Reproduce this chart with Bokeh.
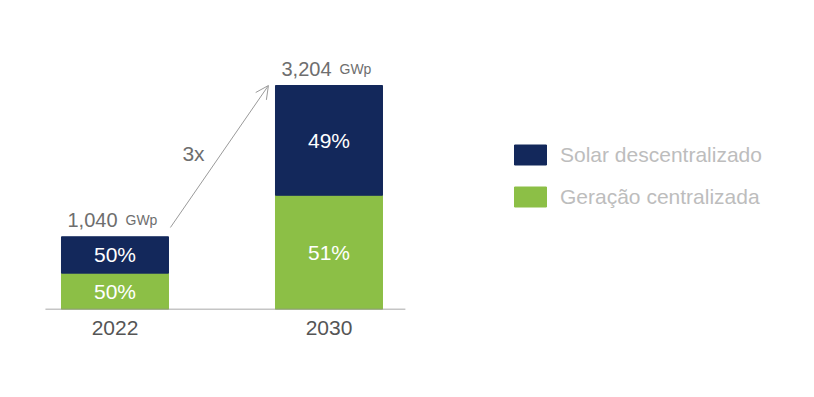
from bokeh.plotting import figure
from bokeh.models import (Range1d, FixedTicker, Legend, LegendItem, Arrow, OpenHead,
                          ColumnDataSource)
from bokeh.core.properties import value
from bokeh.embed import file_html
from bokeh.resources import INLINE

years = ["2022", "2030"]
totals = [1040, 3204]
share_dec = [50, 49]   # Solar descentralizado %
share_cen = [50, 51]   # Geração centralizada %
total_labels = ["1,040", "3,204"]
unit = "GWp"
growth_label = "3x"
series_names = ["Solar descentralizado", "Geração centralizada"]

NAVY = "#13285B"
GREEN = "#8CBF46"
FONT = "Liberation Sans"

xs = list(range(len(years)))
cen = [t * c / 100 for t, c in zip(totals, share_cen)]
dec = [t * d / 100 for t, d in zip(totals, share_dec)]

src = ColumnDataSource(dict(
    x=xs, cen=cen, dec=dec, total=totals,
    cen_mid=[c / 2 for c in cen],
    dec_mid=[c + d / 2 for c, d in zip(cen, dec)],
    cen_lab=[f"{v}%" for v in share_cen],
    dec_lab=[f"{v}%" for v in share_dec],
    tot_lab=total_labels,
    unit=[unit] * len(years),
    left=[x - 0.25 for x in xs],
))

p = figure(width=798, height=381, output_backend="svg", toolbar_location=None,
           x_range=Range1d(-0.535, 3.194), y_range=Range1d(0, 4420),
           min_border_left=0, min_border_right=0, min_border_top=0,
           min_border_bottom=72)
p.outline_line_color = None
p.grid.visible = False
p.yaxis.visible = False
p.background_fill_color = "white"

r_cen = p.vbar(x="x", bottom=0, top="cen", width=0.5, color=GREEN, source=src)
r_dec = p.vbar(x="x", bottom="cen", top="total", width=0.5, color=NAVY, source=src)

# baseline
p.segment(x0=-0.325, y0=0, x1=1.357, y1=0, line_color="#8C8C8C", line_width=1.5)

# percentage labels
for ycol, tcol in (("cen_mid", "cen_lab"), ("dec_mid", "dec_lab")):
    p.text(x="x", y=ycol, text=tcol, source=src, text_color="white",
           text_font=value(FONT), text_font_size="21px", text_align="center",
           text_baseline="middle")

# totals
p.text(x="left", y="total", text="tot_lab", source=src, text_color="#6E6E6E",
       text_font=value(FONT), text_font_size="20px", text_align="left",
       text_baseline="bottom", x_offset=6, y_offset=-10)
p.text(x="left", y="total", text="unit", source=src, text_color="#6E6E6E",
       text_font=value(FONT), text_font_size="14px", text_align="left",
       text_baseline="bottom", x_offset=64, y_offset=-9)

# growth arrow
p.add_layout(Arrow(end=OpenHead(size=13, line_color="#9A9A9A", line_width=1),
                   x_start=0.259, y_start=1173,
                   x_end=0.717, y_end=totals[1],
                   line_color="#9A9A9A", line_width=1))
p.text(x=[0.367], y=[2231], text=[growth_label], text_color="#6E6E6E",
       text_font=value(FONT), text_font_size="21px", text_align="center",
       text_baseline="middle")

# axis
p.xaxis.ticker = FixedTicker(ticks=xs)
p.xaxis.major_label_overrides = {x: y for x, y in zip(xs, years)}
p.xaxis.axis_line_color = None
p.xaxis.major_tick_line_color = None
p.xaxis.minor_tick_line_color = None
p.xaxis.major_label_standoff = 5
p.xaxis.major_label_text_font = FONT
p.xaxis.major_label_text_font_size = "21px"
p.xaxis.major_label_text_color = "#555555"

legend = Legend(items=[LegendItem(label=series_names[0], renderers=[r_dec]),
                       LegendItem(label=series_names[1], renderers=[r_cen])],
                location=(510, 100), glyph_width=40, glyph_height=25,
                label_standoff=10, spacing=17, padding=10,
                border_line_color=None, background_fill_alpha=0,
                label_text_font=FONT, label_text_font_size="21px",
                label_text_color="#BDBDBD")
p.add_layout(legend)

open("out.html", "w").write(file_html(p, INLINE))
